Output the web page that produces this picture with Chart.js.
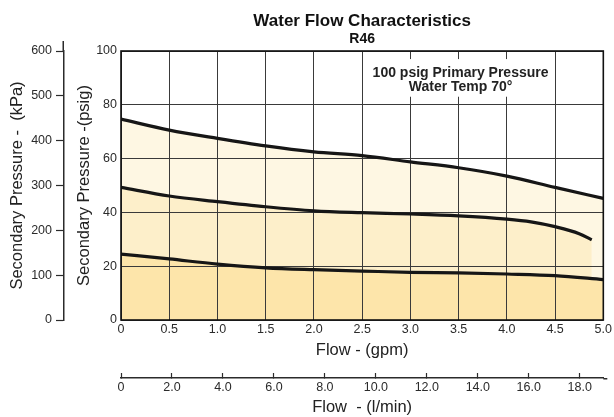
<!DOCTYPE html>
<html>
<head>
<meta charset="utf-8">
<title>Water Flow Characteristics R46</title>
<script src="https://cdn.jsdelivr.net/npm/chart.js@4.4.1/dist/chart.umd.min.js"></script>
<style>
    html, body { margin: 0; padding: 0; background: #fff; }
    #wrap { width: 614px; height: 417px; }
</style>
</head>
<body>
<div id="wrap"><canvas id="flowChart"></canvas></div>
<script>
// Values (secondary pressure in psig vs flow in gpm)
const flowGpm = [0, 0.5, 1.0, 1.5, 2.0, 2.5, 3.0, 3.5, 4.0, 4.5, 5.0];
const highPsig = [74.7, 70.6, 67.5, 64.7, 62.5, 61.1, 58.8, 56.6, 53.5, 49.3, 45.2];
const midFlowGpm = [0, 0.5, 1.0, 1.5, 2.0, 2.5, 3.0, 3.5, 4.0, 4.25, 4.5, 4.75, 4.88];
const midPsig = [49.3, 46.1, 44.0, 42.1, 40.6, 39.9, 39.4, 38.7, 37.5, 36.5, 34.7, 32.1, 29.8];
const lowPsig = [24.5, 22.7, 20.8, 19.4, 18.7, 18.2, 17.7, 17.5, 17.1, 16.5, 15.0];

// Axis ranges / tick steps
const psigMax = 100, psigStep = 20;
const kpaMax = 600, kpaStep = 100;
const gpmMax = 5, gpmStep = 0.5;
const LPM_PER_GPM = 3.785;
const lpmStep = 2;

const titleText = 'Water Flow Characteristics';
const subtitleText = 'R46';
const noteLines = ['100 psig Primary Pressure', 'Water Temp 70°'];

const FONT = '"Liberation Sans", Arial, Helvetica, sans-serif';
const INK = '#2b2b2b';

const toPoints = (xs, ys) => xs.map((x, i) => ({ x: x, y: ys[i] }));

const fmtFlow = v => (v === 0 ? '0' : v.toFixed(1));

/**
 * Title, subtitle and the boxed note, all centred on the plot area
 */
const chartText = {
    id: 'chartText',
    beforeDatasetsDraw(chart) {
        const { ctx, scales } = chart;
        // white panel behind the note, covering the grid
        const cx = scales.x.getPixelForValue(3.52);
        const top = scales.y.getPixelForValue(97);
        const bottom = scales.y.getPixelForValue(83);
        ctx.save();
        ctx.fillStyle = '#fff';
        ctx.fillRect(cx - 92, top, 184, bottom - top);
        ctx.restore();
    },
    afterDraw(chart) {
        const { ctx, chartArea: a, scales } = chart;
        const mid = (a.left + a.right) / 2;
        ctx.save();
        ctx.fillStyle = '#111';
        ctx.textAlign = 'center';
        ctx.textBaseline = 'alphabetic';
        ctx.font = 'bold 17px ' + FONT;
        ctx.fillText(titleText, mid, 26);
        ctx.font = 'bold 14px ' + FONT;
        ctx.fillText(subtitleText, mid, 43);

        const cx = scales.x.getPixelForValue(3.52);
        ctx.font = 'bold 14px ' + FONT;
        ctx.fillStyle = '#222';
        ctx.fillText(noteLines[0], cx, 77);
        ctx.fillText(noteLines[1], cx, 91);

        // plot frame
        ctx.strokeStyle = '#111';
        ctx.lineWidth = 1.6;
        ctx.strokeRect(a.left, a.top, a.right - a.left, a.bottom - a.top);

        // the kPa and l/min axis lines run a little past their ends
        const k = scales.kpa;
        ctx.strokeStyle = INK;
        ctx.lineWidth = 1.5;
        ctx.beginPath();
        ctx.moveTo(k.right - 0.75, k.top - 10);
        ctx.lineTo(k.right - 0.75, k.top);
        const l = scales.lpm;
        ctx.moveTo(l.right, l.top + 0.75);
        ctx.lineTo(l.right + 4, l.top + 0.75);
        ctx.stroke();
        ctx.restore();
    }
};

function lineSet(label, points, fillColor) {
    return {
        label: label,
        data: points,
        borderColor: '#161616',
        borderWidth: 3.2,
        backgroundColor: fillColor,
        fill: 'origin',
        pointRadius: 0,
        cubicInterpolationMode: 'monotone'
    };
}

const ctx = document.getElementById('flowChart').getContext('2d');

new Chart(ctx, {
    type: 'line',
    data: {
        datasets: [
            lineSet('low', toPoints(flowGpm, lowPsig), '#FDE5AA'),
            lineSet('mid', toPoints(midFlowGpm, midPsig), '#FDEFCA'),
            lineSet('high', toPoints(flowGpm, highPsig), '#FEF7E3')
        ]
    },
    options: {
        responsive: true,
        maintainAspectRatio: false,
        animation: false,
        layout: { padding: { top: 51, right: 8, left: 0, bottom: 0 } },
        plugins: {
            legend: { display: false },
            tooltip: { enabled: false },
            filler: { drawTime: 'beforeDraw' }
        },
        scales: {
            x: {
                type: 'linear',
                position: 'bottom',
                weight: 0,
                min: 0,
                max: gpmMax,
                ticks: {
                    stepSize: gpmStep,
                    padding: 2,
                    color: INK,
                    font: { family: FONT, size: 12.5 },
                    maxRotation: 0,
                    callback: fmtFlow
                },
                grid: { color: '#3a3a3a', lineWidth: 1, drawTicks: false },
                border: { display: false },
                title: {
                    display: true,
                    text: 'Flow - (gpm)',
                    color: '#222',
                    font: { family: FONT, size: 16.5 },
                    padding: { top: 0, bottom: 18 }
                },
                afterFit: s => { s.height = 58; }
            },
            lpm: {
                type: 'linear',
                position: 'bottom',
                weight: 1,
                min: 0,
                max: gpmMax * LPM_PER_GPM,
                ticks: {
                    stepSize: lpmStep,
                    includeBounds: false,
                    padding: 7,
                    color: INK,
                    font: { family: FONT, size: 12.5 },
                    maxRotation: 0,
                    callback: fmtFlow
                },
                grid: {
                    drawOnChartArea: false,
                    drawTicks: true,
                    tickLength: -5,
                    tickColor: INK,
                    tickWidth: 1.2
                },
                border: { display: true, color: INK, width: 1.5 },
                title: {
                    display: true,
                    text: 'Flow  - (l/min)',
                    color: '#222',
                    font: { family: FONT, size: 16.5 },
                    padding: 0
                },
                afterFit: s => { s.height = 39; }
            },
            y: {
                type: 'linear',
                position: 'left',
                weight: 0,
                min: 0,
                max: psigMax,
                ticks: {
                    stepSize: psigStep,
                    padding: 4,
                    color: INK,
                    font: { family: FONT, size: 12.5 }
                },
                grid: { color: '#3a3a3a', lineWidth: 1, drawTicks: false },
                border: { display: false },
                title: {
                    display: true,
                    text: 'Secondary Pressure -(psig)',
                    color: '#222',
                    font: { family: FONT, size: 16.5 },
                    padding: { top: 11, bottom: 0 }
                },
                afterFit: s => { s.width = 57; }
            },
            kpa: {
                type: 'linear',
                position: 'left',
                weight: 1,
                min: 0,
                max: kpaMax,
                ticks: {
                    stepSize: kpaStep,
                    padding: 4,
                    color: INK,
                    font: { family: FONT, size: 12.5 }
                },
                grid: {
                    drawOnChartArea: false,
                    drawTicks: true,
                    tickLength: 8,
                    tickColor: INK,
                    tickWidth: 1.2
                },
                border: { display: true, color: INK, width: 1.5 },
                title: {
                    display: true,
                    text: 'Secondary Pressure -  (kPa)',
                    color: '#222',
                    font: { family: FONT, size: 16.5 },
                    padding: { top: 8, bottom: 0 }
                },
                afterFit: s => { s.width = 64; }
            }
        }
    },
    plugins: [chartText]
});
</script>
</body>
</html>
